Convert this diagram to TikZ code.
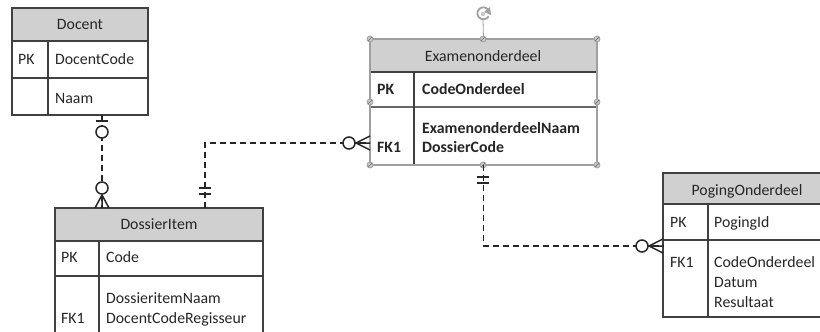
\documentclass[tikz,border=0pt]{standalone}
\usepackage{fontspec}
\setmainfont{Carlito}
\definecolor{linec}{HTML}{404040}
\definecolor{hdrfill}{HTML}{D0D0D0}
\definecolor{selc}{HTML}{A0A0A0}
\definecolor{handlec}{HTML}{C8C8C8}
\definecolor{txtc}{HTML}{262626}
\begin{document}
\begin{tikzpicture}[x=1pt,y=-1pt,
  cell/.style={draw=linec, line width=1.2pt, anchor=north west, inner sep=0pt, outer sep=0pt},
  hcell/.style={cell, fill=hdrfill},
  rule/.style={draw=linec, line width=1.2pt},
  lbl/.style={inner sep=0pt, text=txtc, font=\fontsize{15.8}{19}\selectfont},
  blbl/.style={lbl, font=\fontsize{15.8}{19}\selectfont\bfseries},
  conn/.style={draw=black!85, line width=1.6pt, dash pattern=on 6pt off 4pt},
  endsym/.style={draw=black!85, line width=1.5pt},
  ring/.style={endsym, fill=white},
  handle/.style={draw=selc, fill=handlec, line width=0.8pt}]
\useasboundingbox (0,0) rectangle (820,332);
\clip (0,0) rectangle (820,332);

% ---------- Docent ----------
\node[hcell, minimum width=136pt, minimum height=33pt] (docent-h) at (12,8) {};
\node[cell, minimum width=136pt, minimum height=37pt] (docent-pk) at (12,41) {};
\node[cell, minimum width=136pt, minimum height=37pt] (docent-r) at (12,78) {};
\draw[rule] (48,41) -- (48,115);
\node[lbl, anchor=base] (docent-t) at (80,30) {Docent};
\node[lbl, anchor=base west] (docent-k1) at (18,64) {PK};
\node[lbl, anchor=base west] (docent-f1) at (55,64) {DocentCode};
\node[lbl, anchor=base west] (docent-f2) at (55,103) {Naam};

% ---------- DossierItem ----------
\node[hcell, minimum width=208pt, minimum height=33pt] (dossier-h) at (55,208) {};
\node[cell, minimum width=208pt, minimum height=35pt] (dossier-pk) at (55,241) {};
\node[cell, minimum width=208pt, minimum height=70pt] (dossier-r) at (55,276) {};
\draw[rule] (99,241) -- (99,346);
\node[lbl, anchor=base] (dossier-t) at (159,229) {DossierItem};
\node[lbl, anchor=base west] (dossier-k1) at (61,262) {PK};
\node[lbl, anchor=base west] (dossier-f1) at (106,262) {Code};
\node[lbl, anchor=base west] (dossier-f2) at (106,303) {DossieritemNaam};
\node[lbl, anchor=base west] (dossier-k2) at (61,323) {FK1};
\node[lbl, anchor=base west] (dossier-f3) at (106,323) {DocentCodeRegisseur};

% ---------- Examenonderdeel (selected) ----------
\node[hcell, draw=none, minimum width=227pt, minimum height=33pt] (exam-h) at (370,39) {};
\node[cell, draw=none, minimum width=227pt, minimum height=35pt] (exam-pk) at (370,72) {};
\node[cell, draw=none, minimum width=227pt, minimum height=58pt] (exam-r) at (370,107) {};
\draw[rule] (370,72) -- (597,72);
\draw[rule, draw=linec!80] (370,107) -- (597,107);
\draw[rule] (414,72) -- (414,165);
\draw[draw=selc, line width=1.2pt] (exam-h.north west) rectangle (exam-r.south east);
\node[lbl, anchor=base] (exam-t) at (483,61) {Examenonderdeel};
\node[blbl, anchor=base west] (exam-k1) at (377,94) {PK};
\node[blbl, anchor=base west] (exam-f1) at (422,94) {CodeOnderdeel};
\node[blbl, anchor=base west] (exam-f2) at (422,133) {ExamenonderdeelNaam};
\node[blbl, anchor=base west] (exam-k2) at (377,152) {FK1};
\node[blbl, anchor=base west] (exam-f3) at (422,152) {DossierCode};

% selection handles
\draw[draw=selc, line width=0.8pt] (483,20) -- (exam-h.north);
\foreach \hx/\hy in {370/39, 483/39, 597/39, 370/102, 597/102, 370/165, 483/165, 597/165}{
  \filldraw[handle] (\hx,\hy) circle (3pt);
  \draw[draw=selc!70!black, line width=0.7pt] (\hx-2,\hy+2) -- (\hx+2,\hy-2);
}
% rotation handle
\draw[draw=selc, line width=1.8pt] (488,9.5) arc[start angle=40, end angle=330, radius=6pt];
\fill[selc] (490,7) -- (491,15) -- (484,12) -- cycle;
\fill[selc!60] (483,14) circle (2.2pt);

% ---------- PogingOnderdeel ----------
\node[hcell, minimum width=168pt, minimum height=31pt] (poging-h) at (663,173) {};
\node[cell, minimum width=168pt, minimum height=36pt] (poging-pk) at (663,204) {};
\node[cell, minimum width=168pt, minimum height=77pt] (poging-r) at (663,240) {};
\draw[rule] (708,204) -- (708,317);
\node[lbl, anchor=base] (poging-t) at (747,195) {PogingOnderdeel};
\node[lbl, anchor=base west] (poging-k1) at (670,227) {PK};
\node[lbl, anchor=base west] (poging-f1) at (714,227) {PogingId};
\node[lbl, anchor=base west] (poging-k2) at (670,267) {FK1};
\node[lbl, anchor=base west] (poging-f2) at (714,267) {CodeOnderdeel};
\node[lbl, anchor=base west] (poging-f3) at (714,287) {Datum};
\node[lbl, anchor=base west] (poging-f4) at (714,307) {Resultaat};

% ---------- relationships ----------
% Docent (zero or one) -- DossierItem (zero or many)
\draw[conn] ([xshift=22pt]docent-r.south) -- ([xshift=-57pt]dossier-h.north);
\draw[endsym] (96,121) -- (108,121);
\draw[ring] (102,132) circle (6pt);
\draw[ring] (102,188) circle (6pt);
\draw[endsym] (95,208) -- (102,195) -- (109,208) (102,195) -- (102,208);

% DossierItem (exactly one) -- Examenonderdeel (zero or many)
\draw[conn] ([xshift=46pt]dossier-h.north) |- ([yshift=-7pt]exam-r.west);
\draw[endsym] (199,188) -- (211,188) (199,194) -- (211,194);
\draw[ring] (349,143) circle (6pt);
\draw[endsym] (370,136) -- (356,143) -- (370,150) (356,143) -- (370,143);

% Examenonderdeel (exactly one) -- PogingOnderdeel (zero or many)
\draw[conn] (exam-r.south) |- ([yshift=32.5pt]poging-r.west);
\draw[endsym] (477,177) -- (489,177) (477,183) -- (489,183);
\draw[ring] (642,246) circle (6pt);
\draw[endsym] (663,239) -- (649,246) -- (663,253) (649,246) -- (663,246);
\end{tikzpicture}
\end{document}
